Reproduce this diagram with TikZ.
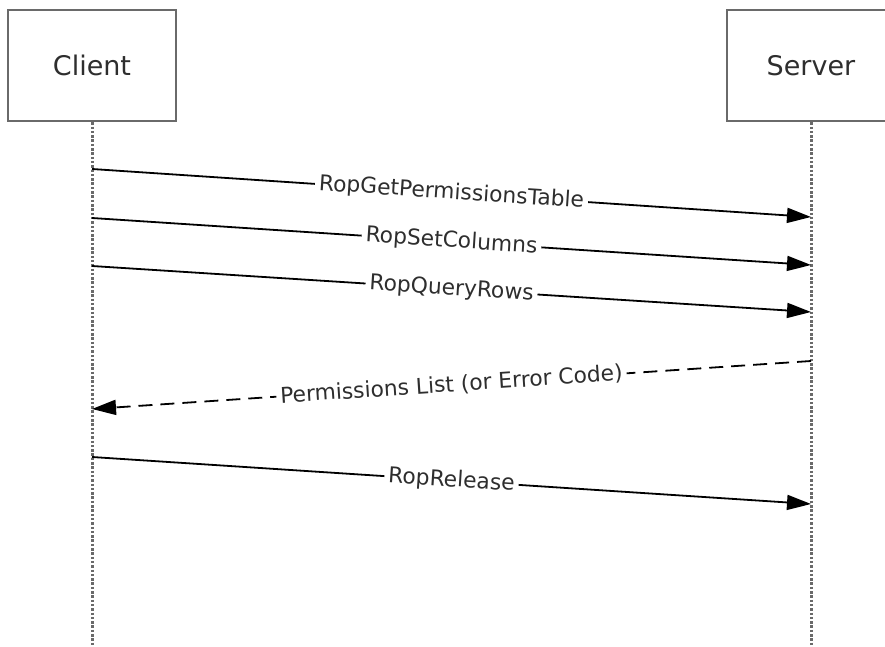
\documentclass[tikz,border=0pt]{standalone}
\usepackage{fontspec}
\setmainfont{DejaVu Sans}
\usetikzlibrary{arrows.meta}

\definecolor{boxgray}{HTML}{6A6A6A}
\definecolor{textgray}{HTML}{2E2E2E}

\begin{document}
\begin{tikzpicture}[x=1pt, y=-1pt,
  actor/.style={draw=boxgray, line width=2.6pt, minimum width=168pt, minimum height=111pt,
    text=textgray, font=\fontsize{27}{32}\selectfont},
  lifeline/.style={draw=boxgray, line width=3pt, dash pattern=on 2.5pt off 1.8pt},
  msg/.style={draw=black, line width=1.8pt, arrows={-Triangle[length=24pt, width=15pt]}},
  reply/.style={msg, dash pattern=on 14pt off 8pt},
  msglabel/.style={midway, sloped, fill=white, inner sep=4pt, text=textgray,
    font=\fontsize{21.8}{26}\selectfont}]
\useasboundingbox (0,0) rectangle (885,647);
\node[actor] (client) at (92, 65.5) {Client};
\node[actor] (server) at (811, 65.5) {Server};
\coordinate (client_end) at (92, 647);
\coordinate (server_end) at (811, 647);
\draw[lifeline] (client.south) -- (client_end);
\draw[lifeline] (server.south) -- (server_end);
% points on the lifelines
\coordinate (c1) at (92, 169);
\coordinate (s1) at (811, 217);
\coordinate (c2) at (92, 218);
\coordinate (s2) at (811, 265);
\coordinate (c3) at (92, 266);
\coordinate (s3) at (811, 312);
\coordinate (s4) at (811, 361);
\coordinate (c4) at (92, 409);
\coordinate (c5) at (92, 457);
\coordinate (s5) at (811, 504);
\draw[msg] (c1) -- (s1) node[msglabel] {RopGetPermissionsTable};
\draw[msg] (c2) -- (s2) node[msglabel] {RopSetColumns};
\draw[msg] (c3) -- (s3) node[msglabel] {RopQueryRows};
\draw[reply] (s4) -- (c4) node[msglabel] {Permissions List (or Error Code)};
\draw[msg] (c5) -- (s5) node[msglabel] {RopRelease};
\end{tikzpicture}
\end{document}
